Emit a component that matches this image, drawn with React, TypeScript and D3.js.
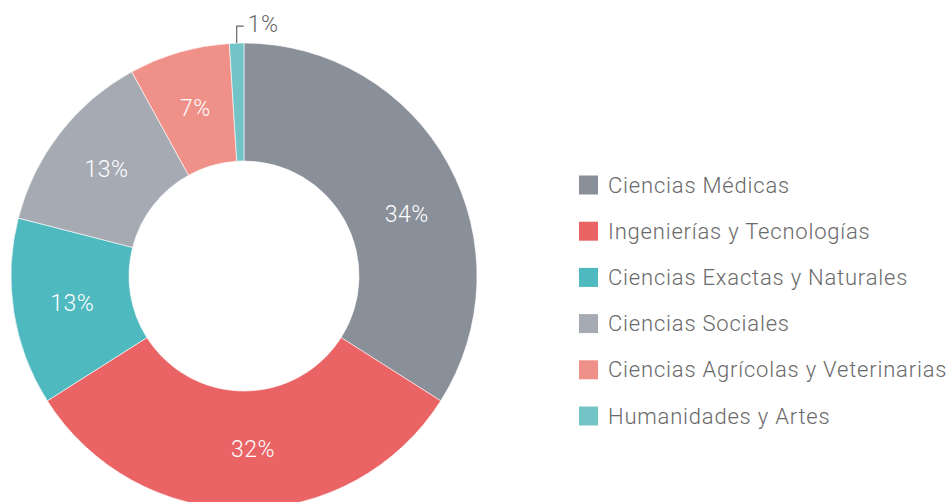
import { useEffect, useRef } from "react";
import * as d3 from "d3";

// Share of publications by field (percent)
const categories = [
  "Ciencias Médicas",
  "Ingenierías y Tecnologías",
  "Ciencias Exactas y Naturales",
  "Ciencias Sociales",
  "Ciencias Agrícolas y Veterinarias",
  "Humanidades y Artes",
];
const shares = [34, 32, 13, 13, 7, 1];
const colors = ["#8a9099", "#ea6365", "#4eb9bf", "#a6abb3", "#f09189", "#73c4c6"];

const WIDTH = 948;
const HEIGHT = 502;

// small angular nudge (degrees) for labels that the original moved off the centroid
const labelNudge: Record<string, number> = { "Ciencias Médicas": 8, "Ingenierías y Tecnologías": -3 };

const DonutChart = () => {
  const ref = useRef<SVGSVGElement | null>(null);

  useEffect(() => {
    if (!ref.current) return;
    const svg = d3.select(ref.current);
    svg.selectAll("*").remove();

    const cx = 244;
    const cy = 276;
    const outerR = 233;
    const innerR = 115;
    const font = "Roboto, 'DejaVu Sans', sans-serif";

    const data = categories.map((name, i) => ({ name, value: shares[i], color: colors[i] }));

    const pie = d3.pie<typeof data[number]>().value((d) => d.value).sort(null);
    const arcs = pie(data);
    const arc = d3.arc<d3.PieArcDatum<typeof data[number]>>().innerRadius(innerR).outerRadius(outerR);
    const labelR = (innerR + outerR) / 2;

    const g = svg.append("g").attr("transform", `translate(${cx},${cy})`);

    g.selectAll("path.slice")
      .data(arcs)
      .join("path")
      .attr("class", "slice")
      .attr("d", arc)
      .attr("fill", (d) => d.data.color)
      .attr("stroke", "#ffffff")
      .attr("stroke-width", 0.6);

    // labels inside the ring for the bigger slices
    const big = arcs.filter((d) => d.data.value >= 5);
    g.selectAll("text.inner")
      .data(big)
      .join("text")
      .attr("class", "inner")
      .attr("transform", (d) => {
        const a = (d.startAngle + d.endAngle) / 2 + ((labelNudge[d.data.name] ?? 0) * Math.PI) / 180;
        return `translate(${Math.sin(a) * labelR},${-Math.cos(a) * labelR})`;
      })
      .attr("text-anchor", "middle")
      .attr("dominant-baseline", "central")
      .style("font-family", font)
      .style("font-weight", 300)
      .style("font-size", "23px")
      .style("letter-spacing", "0.5px")
      .style("fill", "#ffffff")
      .text((d) => `${d.data.value}%`);

    // leader line + outside label for tiny slices
    const small = arcs.filter((d) => d.data.value < 5);
    small.forEach((d) => {
      const mid = (d.startAngle + d.endAngle) / 2;
      const x0 = Math.sin(mid) * outerR;
      const y0 = -Math.cos(mid) * outerR;
      const y1 = y0 - 17;
      const x1 = x0 + 7;
      g.append("path")
        .attr("d", `M${x0},${y0}V${y1}H${x1}`)
        .attr("fill", "none")
        .attr("stroke", "#666666")
        .attr("stroke-width", 1.2);
      g.append("text")
        .attr("x", x1 + 4)
        .attr("y", y1 + 6)
        .style("font-family", font)
        .style("font-weight", 300)
        .style("font-size", "23px")
        .style("letter-spacing", "0.5px")
        .style("fill", "#666666")
        .text(`${d.data.value}%`);
    });

    // legend
    const legendY = d3.scalePoint<string>().domain(categories).range([185, 416]);
    const legend = svg
      .append("g")
      .selectAll("g")
      .data(data)
      .join("g")
      .attr("transform", (d) => `translate(579,${legendY(d.name)})`);

    legend
      .append("rect")
      .attr("x", 0)
      .attr("y", -9.5)
      .attr("width", 19)
      .attr("height", 19)
      .attr("fill", (d) => d.color);

    legend
      .append("text")
      .attr("x", 29)
      .attr("y", 0)
      .attr("dominant-baseline", "central")
      .style("font-family", font)
      .style("font-weight", 300)
      .style("font-size", "22px")
      .style("letter-spacing", "0.8px")
      .style("fill", "#6a6a6a")
      .text((d) => d.name);
  }, []);

  return (
    <svg
      ref={ref}
      width={WIDTH}
      height={HEIGHT}
      style={{ position: "absolute", left: 0, top: 0, background: "#ffffff" }}
    />
  );
};

export default function App() {
  return <DonutChart />;
}
